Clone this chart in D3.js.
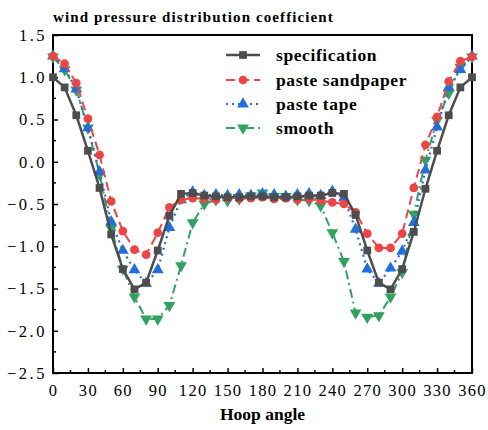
<!DOCTYPE html>
<html>
<head>
<meta charset="UTF-8">
<title>wind pressure distribution coefficient</title>
<style>
  body{margin:0;background:#fff;}
  svg text{font-family:"Liberation Serif","DejaVu Serif",serif;}
  .axis path,.axis line{fill:none;stroke:#000;}
</style>
</head>
<body>
<script src="https://cdn.jsdelivr.net/npm/d3@7"></script>
<script>
// hoop angles (deg)
var angles = [0,10,20,30,40,50,60,70,80,90,100,110,120,130,140,150,160,170,180,
              190,200,210,220,230,240,250,260,270,280,290,300,310,320,330,340,350,360];

var specification = [1.00,0.88,0.55,0.13,-0.31,-0.86,-1.27,-1.51,-1.43,-1.05,-0.64,-0.38,-0.37,
  -0.40,-0.41,-0.42,-0.42,-0.41,-0.41,-0.42,-0.42,-0.41,-0.40,-0.40,-0.37,-0.38,
  -0.63,-1.05,-1.43,-1.51,-1.27,-0.83,-0.32,0.13,0.55,0.88,1.00];

var sandpaper = [1.25,1.16,0.93,0.51,0.08,-0.47,-0.82,-1.04,-1.10,-0.84,-0.54,-0.45,-0.43,
  -0.44,-0.45,-0.43,-0.44,-0.43,-0.42,-0.44,-0.43,-0.45,-0.44,-0.46,-0.48,-0.50,
  -0.60,-0.85,-1.02,-1.02,-0.85,-0.31,0.20,0.53,0.95,1.19,1.24];

var tape = [1.25,1.10,0.86,0.40,-0.12,-0.71,-1.05,-1.28,-1.44,-1.28,-0.78,-0.45,-0.36,
  -0.40,-0.39,-0.40,-0.39,-0.40,-0.38,-0.39,-0.41,-0.39,-0.38,-0.40,-0.35,-0.43,
  -0.80,-1.27,-1.44,-1.26,-1.06,-0.72,-0.10,0.41,0.88,1.09,1.25];

var smooth = [1.24,1.09,0.85,0.40,-0.15,-0.79,-1.27,-1.60,-1.86,-1.86,-1.70,-1.23,-0.72,
  -0.50,-0.45,-0.46,-0.44,-0.40,-0.37,-0.41,-0.41,-0.45,-0.46,-0.52,-0.84,-1.18,
  -1.79,-1.84,-1.82,-1.60,-1.31,-0.62,0.02,0.49,0.81,1.12,1.24];

var seriesNames = ["specification","paste sandpaper","paste tape","smooth"];
var xTicks = [0,30,60,90,120,150,180,210,240,270,300,330,360];
var yTicks = [1.5,1.0,0.5,0.0,-0.5,-1.0,-1.5,-2.0,-2.5];

var W = 488, H = 430;
var margin = {top:35, right:16, bottom:57, left:53};
var width = W - margin.left - margin.right,
    height = H - margin.top - margin.bottom;

var x = d3.scaleLinear().domain([0,360]).range([0,width]);
var y = d3.scaleLinear().domain([-2.5,1.5]).range([height,0]);

var svg = d3.select("body").append("svg")
  .attr("width",W).attr("height",H);

svg.append("text")
  .attr("x",53).attr("y",22)
  .style("font-size","15px").style("font-weight","bold")
  .style("letter-spacing","1.1px")
  .text("wind pressure distribution coefficient");

var g = svg.append("g")
  .attr("transform","translate("+margin.left+","+margin.top+")");

// frame
g.append("rect").attr("width",width).attr("height",height)
  .attr("fill","none").attr("stroke","#000").attr("stroke-width",2);

// minor ticks
var minorX = d3.range(15,360,30), minorY = d3.range(-2.25,1.5,0.5);
g.selectAll(".mx").data(minorX).enter().append("line")
  .attr("x1",function(d){return x(d);}).attr("x2",function(d){return x(d);})
  .attr("y1",height).attr("y2",height-3).attr("stroke","#000").attr("stroke-width",1.5);
g.selectAll(".my").data(minorY).enter().append("line")
  .attr("y1",function(d){return y(d);}).attr("y2",function(d){return y(d);})
  .attr("x1",0).attr("x2",3).attr("stroke","#000").attr("stroke-width",1.5);

var fmt = function(d){ return d3.format(".1f")(d).replace("-","\u2212"); };

var xAxis = g.append("g").attr("class","axis")
  .attr("transform","translate(0,"+height+")")
  .call(d3.axisBottom(x).tickValues(xTicks).tickSizeInner(-5).tickSizeOuter(0).tickPadding(11));
var yAxis = g.append("g").attr("class","axis")
  .call(d3.axisLeft(y).tickValues(yTicks).tickFormat(fmt).tickSizeInner(-5).tickSizeOuter(0).tickPadding(6));

[xAxis,yAxis].forEach(function(a){
  a.select(".domain").remove();
  a.selectAll("line").attr("stroke-width",1.5);
  a.selectAll("text").attr("fill","#000")
    .style("font-family","'Liberation Serif',serif").style("font-size","16.5px");
});
xAxis.selectAll("text").style("letter-spacing","1.3px");
yAxis.selectAll("text").style("letter-spacing","2.5px");

svg.append("text")
  .attr("x",margin.left+width/2).attr("y",420)
  .attr("text-anchor","middle")
  .style("font-size","17.5px").style("font-weight","bold")
  .text("Hoop angle");

var styles = [
  {values:specification, color:"#4d4d4d", dash:null,    width:2.5, shape:d3.symbolSquare,   size:60, rot:0},
  {values:sandpaper,     color:"#ef4444", dash:"9,5",   width:2,   shape:d3.symbolCircle,   size:60, rot:0},
  {values:tape,          color:"#1f6fe0", dash:"2,4",   width:2.2, shape:d3.symbolTriangle, size:60, rot:0},
  {values:smooth,        color:"#2ea35f", dash:"9,4,2,4",width:2,  shape:d3.symbolTriangle, size:60, rot:180}
];

var line = d3.line()
  .x(function(d,i){return x(angles[i]);})
  .y(function(d){return y(d);});

// smooth at the back, specification on top
var order = [3,2,1,0];
order.forEach(function(k){
  var s = styles[k];
  g.append("path").datum(s.values)
    .attr("d",line).attr("fill","none")
    .attr("stroke",s.color).attr("stroke-width",s.width)
    .attr("stroke-dasharray",s.dash);
  g.selectAll(".m"+k).data(s.values).enter().append("path")
    .attr("d",d3.symbol().type(s.shape).size(s.size))
    .attr("transform",function(d,i){return "translate("+x(angles[i])+","+y(d)+") rotate("+s.rot+")";})
    .attr("fill",s.color);
});

// legend
var leg = svg.append("g");
var legY = [55,80,104,128];
styles.forEach(function(s,i){
  var row = leg.append("g").attr("transform","translate(0,"+legY[i]+")");
  row.append("line").attr("x1",226).attr("x2",260).attr("y1",0).attr("y2",0)
    .attr("stroke",s.color).attr("stroke-width",s.width).attr("stroke-dasharray",s.dash);
  row.append("path").attr("d",d3.symbol().type(s.shape).size(s.size)())
    .attr("transform","translate(243,0) rotate("+s.rot+")").attr("fill",s.color);
  row.append("text").attr("x",276).attr("y",6)
    .style("font-size","17.5px").style("font-weight","bold")
    .style("letter-spacing","0.6px")
    .text(seriesNames[i]);
});
</script>
</body>
</html>
